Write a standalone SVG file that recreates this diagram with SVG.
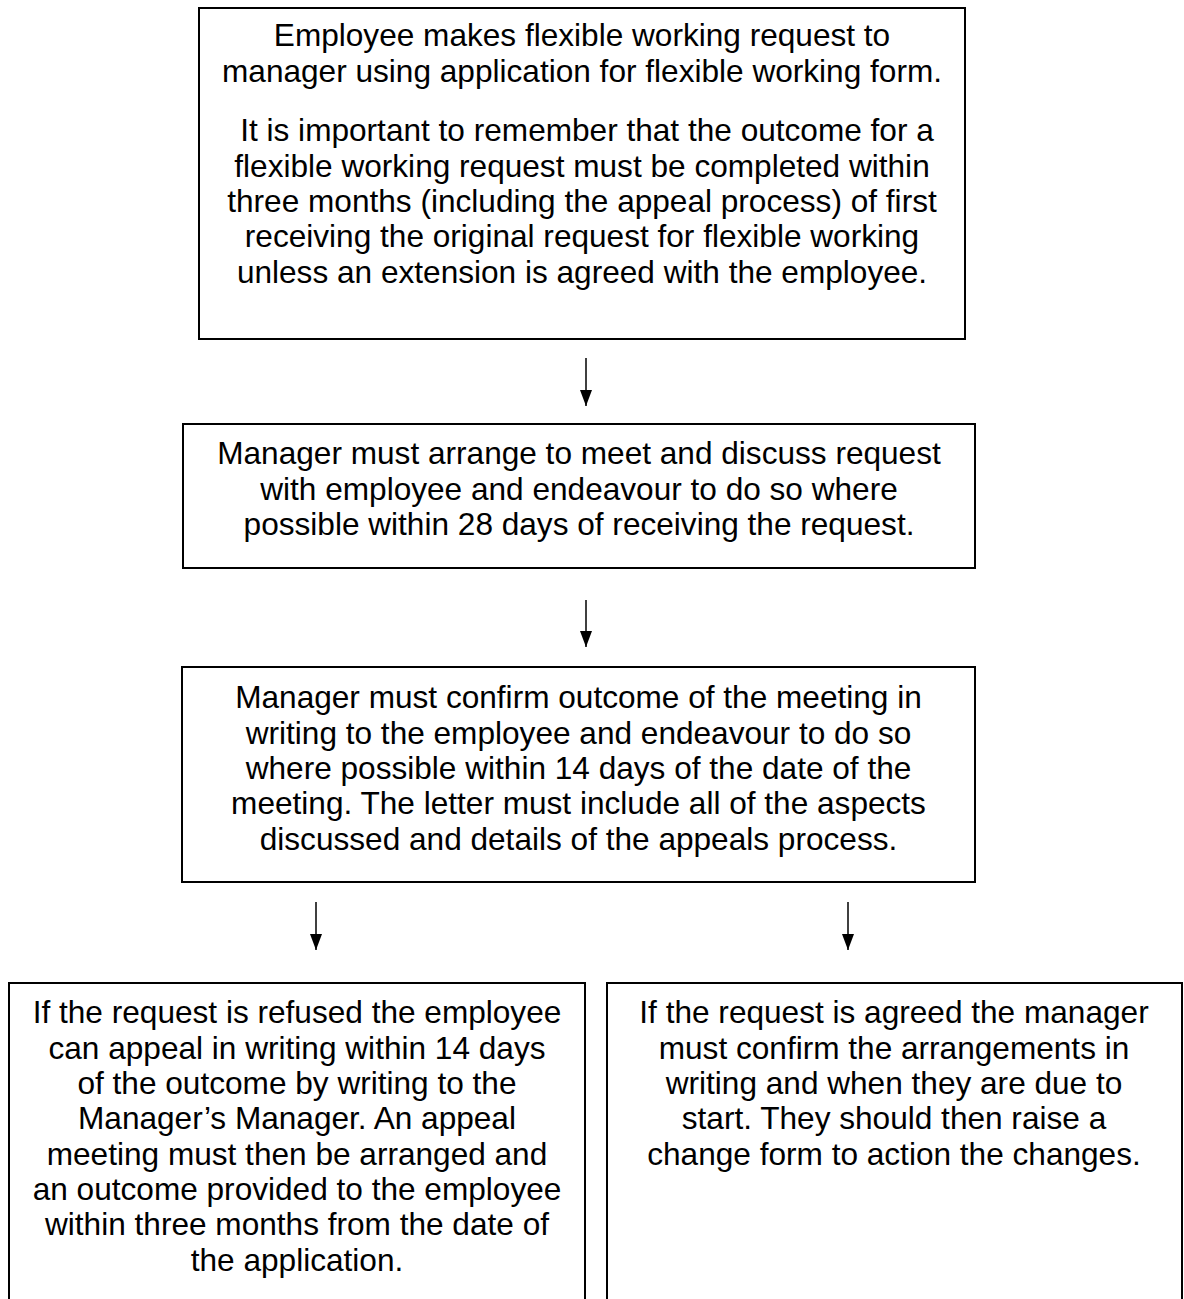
<svg xmlns="http://www.w3.org/2000/svg" width="1184" height="1299" viewBox="0 0 1184 1299">
<style>
.box{fill:#fff;stroke:#000;stroke-width:2}
.t{font-family:"Liberation Sans",Arial,sans-serif;font-size:31.6px;fill:#000;text-anchor:middle}
.c{stroke:#000;stroke-width:1.5;fill:none}
</style>
<defs>
<marker id="ah" viewBox="0 0 16 12" refX="16" refY="6" markerWidth="16" markerHeight="12" markerUnits="userSpaceOnUse" orient="auto">
<path d="M0,0 L16,6 L0,12 Z" fill="#000"/>
</marker>
</defs>
<rect width="1184" height="1299" fill="#fff"/>
<g id="node1">
<rect class="box" x="199" y="8" width="766" height="331"/>
<text class="t"><tspan x="582" y="46">Employee makes flexible working request to</tspan><tspan x="582" y="82">manager using application for flexible working form.</tspan><tspan x="587" y="141">It is important to remember that the outcome for a</tspan><tspan x="582" y="177">flexible working request must be completed within</tspan><tspan x="582" y="212">three months (including the appeal process) of first</tspan><tspan x="582" y="247">receiving the original request for flexible working</tspan><tspan x="582" y="283">unless an extension is agreed with the employee.</tspan></text>
</g>
<g id="node2">
<rect class="box" x="183" y="424" width="792" height="144"/>
<text class="t"><tspan x="579" y="464">Manager must arrange to meet and discuss request</tspan><tspan x="579" y="500">with employee and endeavour to do so where</tspan><tspan x="579" y="535">possible within 28 days of receiving the request.</tspan></text>
</g>
<g id="node3">
<rect class="box" x="182" y="667" width="793" height="215"/>
<text class="t"><tspan x="578.5" y="708">Manager must confirm outcome of the meeting in</tspan><tspan x="578.5" y="744">writing to the employee and endeavour to do so</tspan><tspan x="578.5" y="779">where possible within 14 days of the date of the</tspan><tspan x="578.5" y="814">meeting. The letter must include all of the aspects</tspan><tspan x="578.5" y="850">discussed and details of the appeals process.</tspan></text>
</g>
<g id="node4">
<rect class="box" x="9" y="983" width="576" height="340"/>
<text class="t"><tspan x="297" y="1023">If the request is refused the employee</tspan><tspan x="297" y="1059">can appeal in writing within 14 days</tspan><tspan x="297" y="1094">of the outcome by writing to the</tspan><tspan x="297" y="1129">Manager’s Manager. An appeal</tspan><tspan x="297" y="1165">meeting must then be arranged and</tspan><tspan x="297" y="1200">an outcome provided to the employee</tspan><tspan x="297" y="1235">within three months from the date of</tspan><tspan x="297" y="1271">the application.</tspan></text>
</g>
<g id="node5">
<rect class="box" x="607" y="983" width="575" height="340"/>
<text class="t"><tspan x="894" y="1023">If the request is agreed the manager</tspan><tspan x="894" y="1059">must confirm the arrangements in</tspan><tspan x="894" y="1094">writing and when they are due to</tspan><tspan x="894" y="1129">start. They should then raise a</tspan><tspan x="894" y="1165">change form to action the changes.</tspan></text>
</g>
<g id="connectors">
<line class="c" x1="586" y1="358" x2="586" y2="406" marker-end="url(#ah)"/>
<line class="c" x1="586" y1="600" x2="586" y2="647" marker-end="url(#ah)"/>
<line class="c" x1="316" y1="902" x2="316" y2="950" marker-end="url(#ah)"/>
<line class="c" x1="848" y1="902" x2="848" y2="950" marker-end="url(#ah)"/>
</g>
</svg>
